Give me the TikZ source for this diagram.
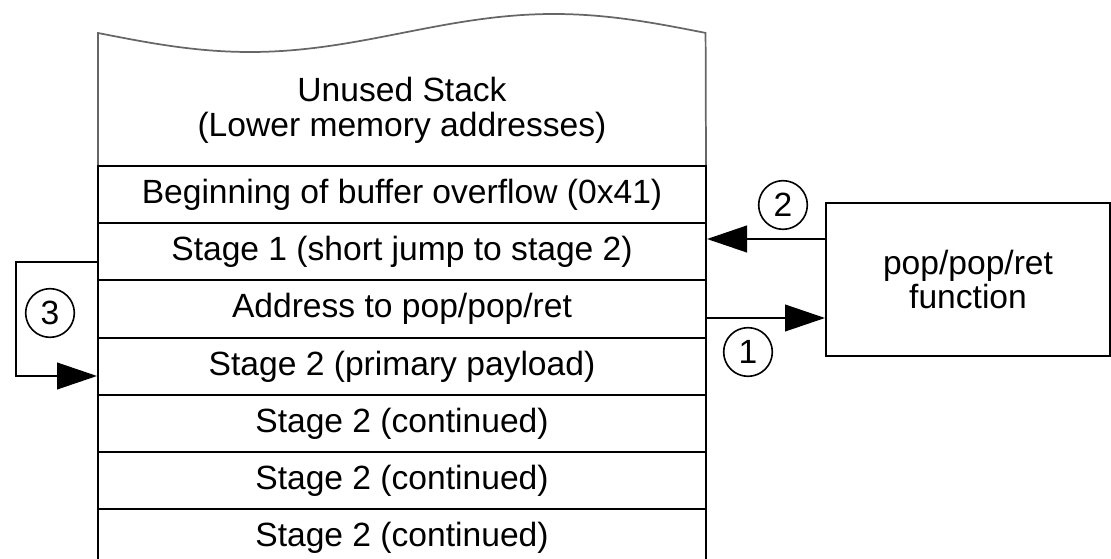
\documentclass[tikz,border=0pt]{standalone}
\usepackage{fontspec}
\setmainfont{Liberation Sans}
\usetikzlibrary{arrows.meta,calc}
\begin{document}
\begin{tikzpicture}[x=0.75pt,y=-0.75pt,
  font=\fontsize{25.2}{26}\selectfont,
  row/.style={draw, line width=1.5pt, minimum width=456pt, minimum height=42.9pt, inner sep=0pt},
  topline/.style={draw=black!60, line width=1.3pt},
  fnbox/.style={draw, line width=1.5pt, minimum width=213pt, minimum height=114.75pt, align=center, inner sep=0pt},
  num/.style={draw, circle, line width=1.2pt, minimum size=36.5pt, inner sep=0pt},
  arr/.style={line width=1.5pt, -{Triangle[length=30pt,width=20pt]}}]
\useasboundingbox (0,0) rectangle (1111,559);

% torn top of the unused stack region
\draw[topline] (98,166) -- (98,33) -- plot[domain=0:1, samples=80, smooth] ({98+608*\x},{33+19*sin(360*\x)}) -- (706,166);
\node[align=center] (unused) at (402,110) {Unused Stack\\(Lower memory addresses)};

% stack slots
\node[row] (r1) at (402,194.5) {Beginning of buffer overflow (0x41)};
\node[row] (r2) at (402,251.5) {Stage 1 (short jump to stage 2)};
\node[row] (r3) at (402,309)   {Address to pop/pop/ret};
\node[row] (r4) at (402,366.5) {Stage 2 (primary payload)};
\node[row] (r5) at (402,423.5) {Stage 2 (continued)};
\node[row] (r6) at (402,480.5) {Stage 2 (continued)};
\node[row] (r7) at (402,537.5) {Stage 2 (continued)};

% gadget
\node[fnbox] (fn) at (968,279.5) {pop/pop/ret\\function};

% step markers
\node[num] (n1) at (748,352) {1};
\node[num] (n2) at (783,205) {2};
\node[num] (n3) at (50,313)  {3};

% control flow
\draw[arr] ($(r3.east)+(0,9)$) -- ($(fn.west)+(0,38.5)$);
\draw[arr] ($(fn.west)+(0,-40.5)$) -- ($(r2.east)+(0,-12.5)$);
\draw[arr] ($(r2.west)+(0,10.5)$) -- ++(-81,0) |- ($(r4.west)+(0,9.5)$);
\end{tikzpicture}
\end{document}
